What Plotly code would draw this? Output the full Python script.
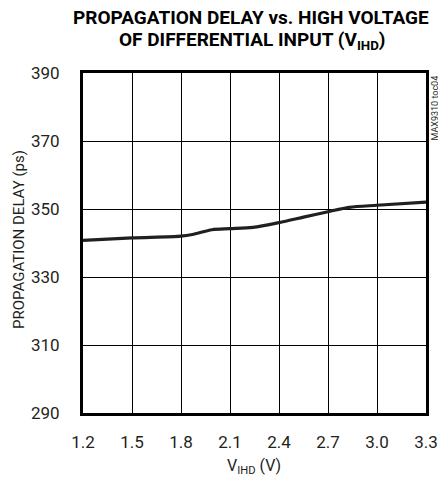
import plotly.graph_objects as go

# Data
v_ihd = [1.2, 1.5, 1.8, 1.87, 1.99, 2.1, 2.24, 2.4, 2.55, 2.7, 2.83, 3.0, 3.3]
delay_ps = [340.8, 341.5, 342.0, 342.5, 343.9, 344.2, 344.6, 346.0, 347.6, 349.2, 350.5, 351.1, 352.0]

x_ticks = [1.2, 1.5, 1.8, 2.1, 2.4, 2.7, 3.0, 3.3]
x_tick_labels = ["1.2", "1.5", "1.8", "2.1", "2.4", "2.7", "3.0", "3.3"]
y_ticks = [290, 310, 330, 350, 370, 390]
y_tick_labels = ["290", "310", "330", "350", "370", "390"]

font_main = "Roboto, Liberation Sans, sans-serif"
W, H = 438, 481
L, R, T, B = 83, 12, 73, 68

fig = go.Figure()
fig.add_trace(go.Scatter(
    x=v_ihd, y=delay_ps, mode="lines",
    line=dict(color="#231f20", width=3.2, shape="spline", smoothing=0.8),
    hoverinfo="skip", showlegend=False,
))

# paper coords relative to plot area
pw, ph = W - L - R, H - T - B
def ax_x(p):
    return (p - L) / pw
def ax_y(p):
    return (H - B - p) / ph

fig.update_layout(
    width=W, height=H,
    margin=dict(l=L, r=R, t=T, b=B),
    paper_bgcolor="white", plot_bgcolor="white",
    xaxis=dict(
        range=[1.2, 3.3], tickvals=x_ticks, ticktext=x_tick_labels,
        showgrid=True, gridcolor="#000000", gridwidth=1,
        showline=True, linecolor="#000000", linewidth=3, mirror=True,
        ticks="", ticklabelstandoff=12, zeroline=False, automargin=False,
        tickfont=dict(family=font_main, size=17, color="#231f20"),
    ),
    yaxis=dict(
        range=[290, 390], tickvals=y_ticks, ticktext=y_tick_labels,
        showgrid=True, gridcolor="#000000", gridwidth=1,
        showline=True, linecolor="#000000", linewidth=3, mirror=True,
        ticks="", ticklabelstandoff=17, zeroline=False, automargin=False,
        tickfont=dict(family=font_main, size=17, color="#231f20"),
    ),
    annotations=[
        dict(text="<b>PROPAGATION DELAY vs. HIGH VOLTAGE</b>", xref="paper", yref="paper",
             x=ax_x(251), y=ax_y(18), xanchor="center", yanchor="middle", showarrow=False,
             font=dict(family=font_main, size=19, color="#000000", weight=900)),
        dict(text="<b>OF DIFFERENTIAL INPUT (V<sub>IHD</sub>)</b>", xref="paper", yref="paper",
             x=ax_x(252), y=ax_y(41), xanchor="center", yanchor="middle", showarrow=False,
             font=dict(family=font_main, size=19, color="#000000", weight=900)),
        dict(text="V<sub>IHD</sub> (V)", xref="paper", yref="paper",
             x=ax_x(254), y=ax_y(467), xanchor="center", yanchor="middle", showarrow=False,
             font=dict(family=font_main, size=16, color="#231f20")),
        dict(text="PROPAGATION DELAY (ps)", xref="paper", yref="paper",
             x=ax_x(19), y=ax_y(240), xanchor="center", yanchor="middle", showarrow=False,
             textangle=-90,
             font=dict(family=font_main, size=15, color="#231f20")),
        dict(text="MAX9310 toc04", xref="paper", yref="paper",
             x=ax_x(434), y=ax_y(73), xanchor="center", yanchor="top", showarrow=False,
             textangle=-90,
             font=dict(family=font_main, size=9, color="#231f20")),
    ],
)

fig.write_html(
    "out.html",
    config={"displayModeBar": False},
    post_script="document.body.style.margin='0';document.body.style.padding='0';"
                "document.body.style.overflow='hidden';",
)
